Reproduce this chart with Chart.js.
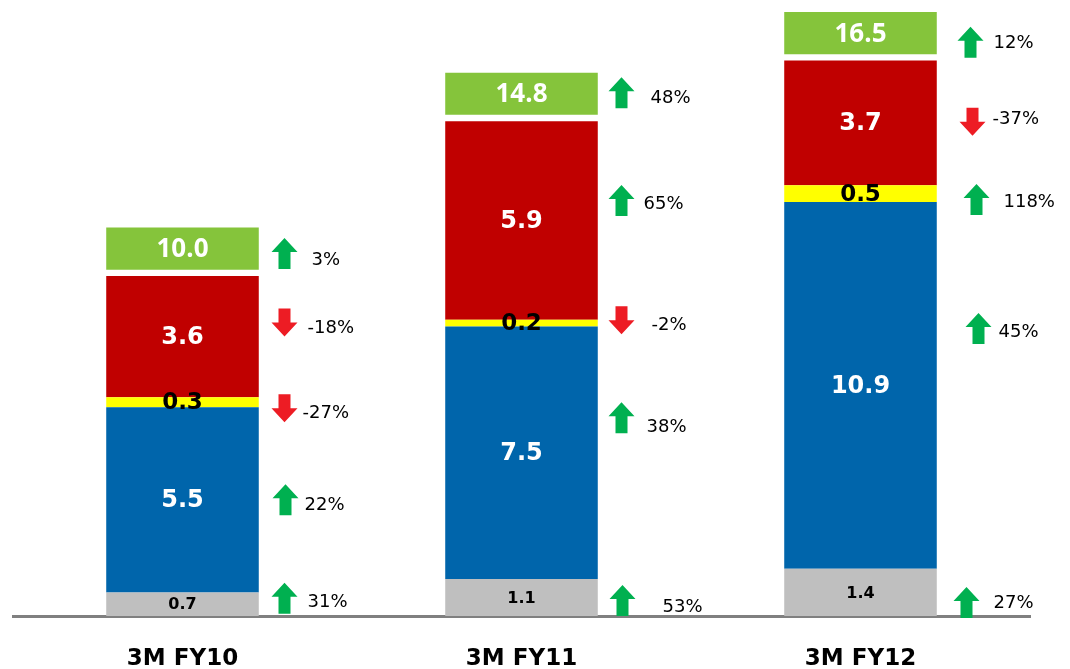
<!DOCTYPE html>
<html>
<head>
<meta charset="utf-8">
<script src="https://cdn.jsdelivr.net/npm/chart.js@4/dist/chart.umd.min.js"></script>
<style>
  html, body { margin: 0; padding: 0; background: #fff; }
  #wrap { width: 1070px; height: 669px; }
</style>
</head>
<body>
<div id="wrap"><canvas id="graphique" width="1070" height="669"></canvas></div>
<script>
// Chiffres par trimestre (segments empilés, bas -> haut)
const categories = ['3M FY10', '3M FY11', '3M FY12'];
const grayVals   = [0.7, 1.1, 1.4];
const blueVals   = [5.5, 7.5, 10.9];
const yellowVals = [0.3, 0.2, 0.5];
const redVals    = [3.6, 5.9, 3.7];
const totals     = [10.0, 14.8, 16.5];

// Variations en %
const grayChg   = [31, 53, 27];
const blueChg   = [22, 38, 45];
const yellowChg = [-27, -2, 118];
const redChg    = [-18, 65, -37];
const totalChg  = [3, 48, 12];

// Mise en page
const Y_MAX = 18.3;
const BOX_GAP = 0.19;     // espace entre la pile et la boîte du total (unités)
const BOX_H = 1.25;       // hauteur de la boîte du total (unités)
const UP = '#00B050', DOWN = '#ED1C24';

// [dx flèche / centre barre, dy flèche / centre segment, dx texte, dy texte]
const flechePos = {
    total:  [[102, 5, 27, 7],   [100, -1, 29, 6],  [110, 9, 23, 1]],
    red:    [[102, -14, 23, 6], [100, -20, 22, 4], [112, -1, 20, -3]],
    yellow: [[102, 6, 18, 5],   [100, -3, 30, 5],  [116, 6, 27, 3]],
    blue:   [[103, 0, 19, 5],   [100, -35, 25, 10], [118, -57, 20, 4]],
    gray:   [[102, -6, 23, 4],  [101, 3, 40, 7],   [106, 10, 27, 1]]
};

// Segments flottants construits à partir des valeurs
const couches = [grayVals, blueVals, yellowVals, redVals];
const base = [0, 0, 0];
const ranges = couches.map(vals => vals.map((v, i) => {
    const r = [base[i], base[i] + v];
    base[i] += v;
    return r;
}));
const boxRanges = base.map(s => [s + BOX_GAP, s + BOX_GAP + BOX_H]);

const serie = (data, color, key, vals, chg, txt, font) => ({
    data, backgroundColor: color, key, vals, chg, txt, font,
    borderWidth: 0, borderSkipped: false, grouped: false,
    barPercentage: 0.45, categoryPercentage: 1
});

const datasets = [
    serie(ranges[0], '#BFBFBF', 'gray',   grayVals,   grayChg,   '#000', 'bold 16px "DejaVu Sans"'),
    serie(ranges[1], '#0065AB', 'blue',   blueVals,   blueChg,   '#fff', 'bold 24px "DejaVu Sans"'),
    serie(ranges[2], '#FFFF00', 'yellow', yellowVals, yellowChg, '#000', 'bold 23px "DejaVu Sans"'),
    serie(ranges[3], '#C00000', 'red',    redVals,    redChg,    '#fff', 'bold 24px "DejaVu Sans"'),
    serie(boxRanges, '#85C43B', 'total',  totals,     totalChg,  '#fff', 'bold 26px "Open Sans"')
];

function fleche(ctx, cx, cy, up) {
    const w = 26, h = up ? 31 : 28, head = 14, sw = 12;
    const s = up ? 1 : -1;
    const tip = cy - s * h / 2, neck = tip + s * head, bas = cy + s * h / 2;
    ctx.beginPath();
    ctx.moveTo(cx, tip);
    ctx.lineTo(cx + w / 2, neck);
    ctx.lineTo(cx + sw / 2, neck);
    ctx.lineTo(cx + sw / 2, bas);
    ctx.lineTo(cx - sw / 2, bas);
    ctx.lineTo(cx - sw / 2, neck);
    ctx.lineTo(cx - w / 2, neck);
    ctx.closePath();
    ctx.fillStyle = up ? UP : DOWN;
    ctx.fill();
}

const etiquettes = {
    id: 'etiquettes',
    afterDatasetsDraw(chart) {
        const ctx = chart.ctx;
        ctx.save();
        chart.data.datasets.forEach((ds, di) => {
            chart.getDatasetMeta(di).data.forEach((bar, i) => {
                const { x, y, base: b } = bar.getProps(['x', 'y', 'base'], true);
                const cy = (y + b) / 2;
                ctx.font = ds.font;
                ctx.fillStyle = ds.txt;
                ctx.textAlign = 'center';
                ctx.textBaseline = 'middle';
                ctx.fillText(ds.vals[i].toFixed(1), x, cy + 1);

                const [dx, dy, tdx, tdy] = flechePos[ds.key][i];
                const ax = x + dx, ay = cy + dy;
                fleche(ctx, ax, ay, ds.chg[i] >= 0);
                ctx.font = '18px "DejaVu Sans"';
                ctx.fillStyle = '#000';
                ctx.textAlign = 'left';
                ctx.fillText(ds.chg[i] + '%', ax + tdx, ay + tdy);
            });
        });
        ctx.restore();
    }
};

new Chart(document.getElementById('graphique').getContext('2d'), {
    type: 'bar',
    data: { labels: categories, datasets },
    options: {
        responsive: false,
        animation: false,
        layout: { padding: { left: 13, right: 40, top: 0, bottom: 0 } },
        plugins: { legend: { display: false }, tooltip: { enabled: false } },
        scales: {
            x: {
                grid: { display: false, drawTicks: false },
                border: { display: true, color: '#808080', width: 3 },
                ticks: { color: '#000', padding: 29, font: { family: 'DejaVu Sans', weight: 'bold', size: 23 } },
                afterFit(scale) { scale.height = 53; }
            },
            y: { display: false, min: 0, max: Y_MAX }
        }
    },
    plugins: [etiquettes]
});
</script>
</body>
</html>
